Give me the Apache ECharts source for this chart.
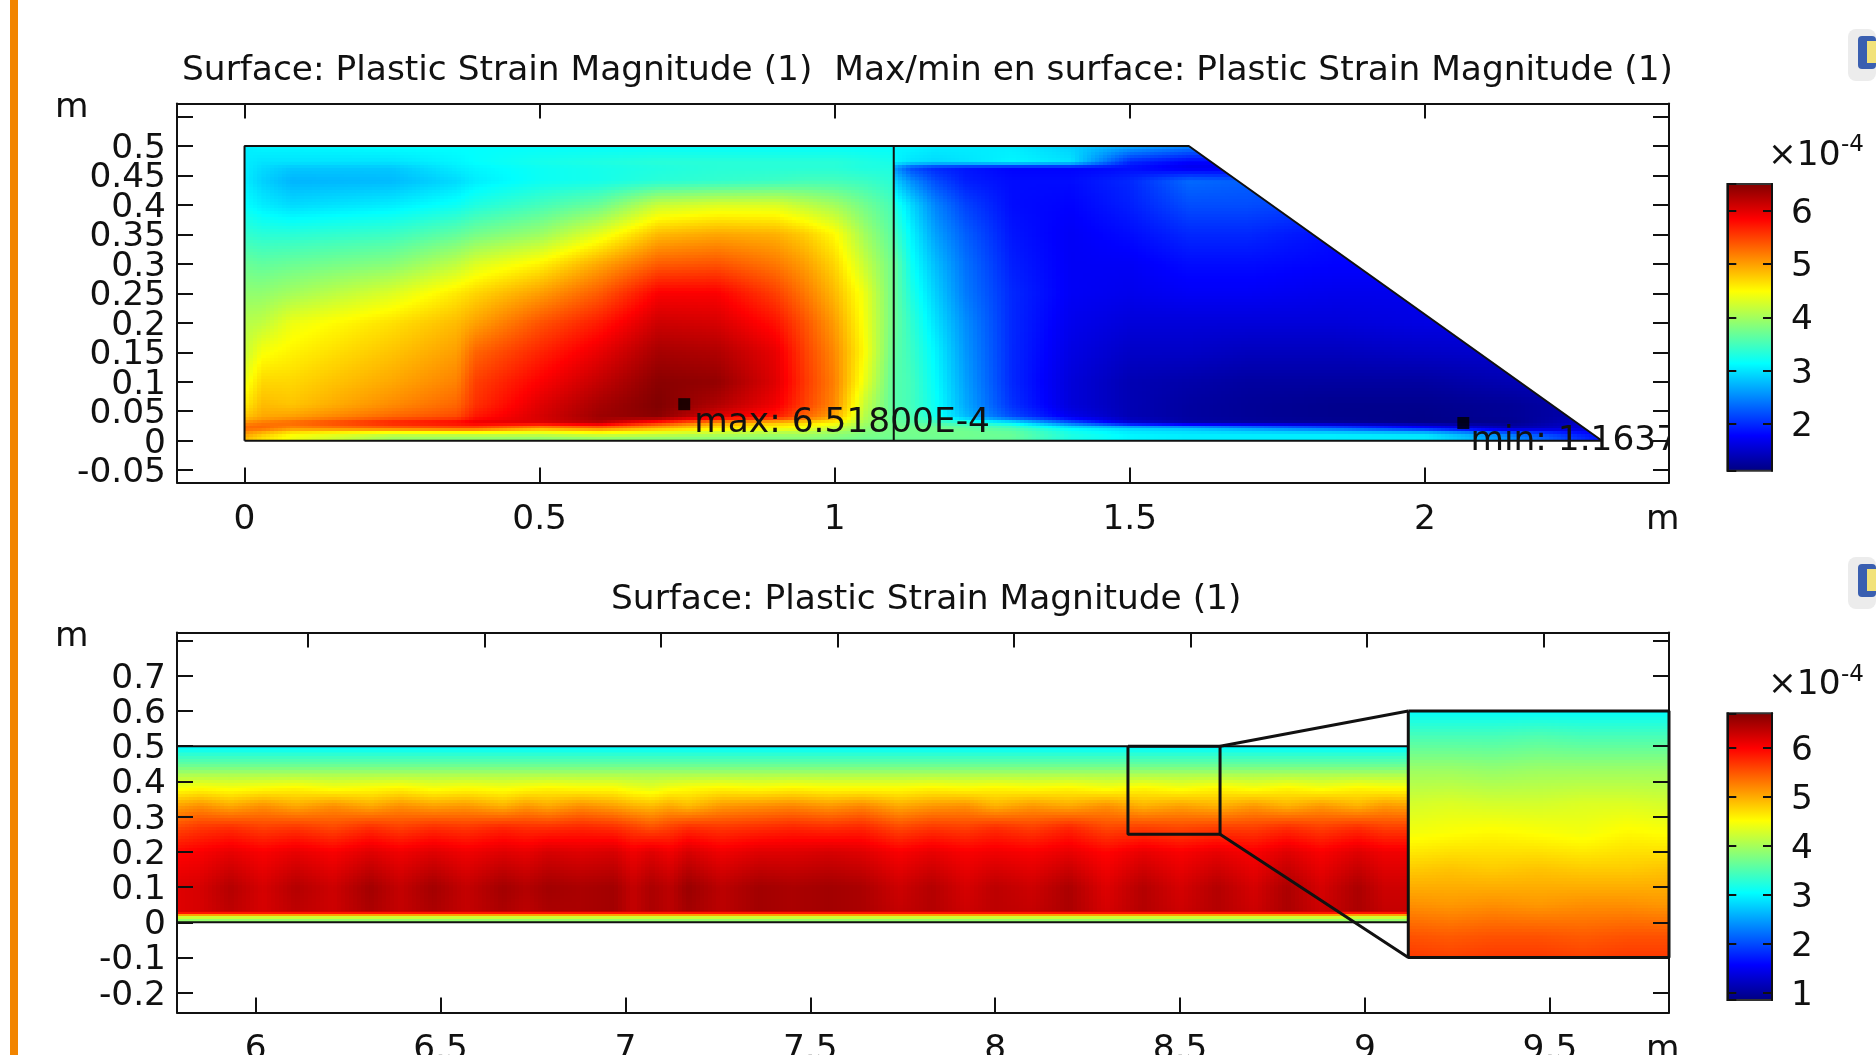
<!DOCTYPE html>
<html><head><meta charset="utf-8">
<style>html,body{margin:0;padding:0;background:#fff;overflow:hidden}#c{width:1876px;height:1055px}</style>
<script src="https://cdn.jsdelivr.net/npm/echarts@6/dist/echarts.min.js"></script>
</head><body><div id="c"></div>
<script>
// ---------- text ----------
const titleTop = 'Surface: Plastic Strain Magnitude (1)  Max/min en surface: Plastic Strain Magnitude (1)';
const titleBottom = 'Surface: Plastic Strain Magnitude (1)';

// ---------- ticks ----------
const topXLabels = [0, 0.5, 1, 1.5, 2];
const topYLabels = [-0.05, 0, 0.05, 0.1, 0.15, 0.2, 0.25, 0.3, 0.35, 0.4, 0.45, 0.5];
const topYTicks = [-0.05, 0, 0.05, 0.1, 0.15, 0.2, 0.25, 0.3, 0.35, 0.4, 0.45, 0.5, 0.55];
const botXLabels = [6, 6.5, 7, 7.5, 8, 8.5, 9, 9.5];
const botXTopTicks = [6, 6.5, 7, 7.5, 8, 8.5, 9, 9.5];
const botYLabels = [-0.2, -0.1, 0, 0.1, 0.2, 0.3, 0.4, 0.5, 0.6, 0.7];
const botYTicks = [-0.2, -0.1, 0, 0.1, 0.2, 0.3, 0.4, 0.5, 0.6, 0.7, 0.8];
const cbTopTicks = [2, 3, 4, 5, 6];
const cbBotTicks = [1, 2, 3, 4, 5, 6];

// ---------- colour ramp / colour bar extents (x 1e-4) ----------
const rampStops = [[0, '#00007f'], [0.125, '#0000ff'], [0.375, '#00ffff'], [0.5, '#80ff80'], [0.625, '#ffff00'], [0.875, '#ff0000'], [1, '#7f0000']];
const cbTopRange = [1.123, 6.507];
const cbBotRange = [0.85, 6.70];

// ---------- upper plot: plastic strain (x 1e-4), rows from y=0.5 down ----------
const topRowY = [0.5, 0.472, 0.462, 0.44, 0.4, 0.35, 0.3, 0.25, 0.2, 0.15, 0.1, 0.06, 0.04, 0.03, 0.022, 0.012, 0];
const leftX = [0, 0.03, 0.08, 0.25, 0.36, 0.39, 0.5, 0.6, 0.7, 0.8, 0.9, 0.95, 1, 1.05, 1.1];
const leftStrain = [
 [3.05,3.1,3.1,3.15,3.15,3.15,3.15,3.15,3.15,3.15,3.15,3.15,3.15,3.15,3.15],
 [3.05,3.0,3.0,3.0,3.1,3.15,3.25,3.3,3.35,3.35,3.35,3.35,3.35,3.3,3.25],
 [3.05,2.95,2.85,2.85,3.05,3.1,3.2,3.25,3.3,3.35,3.35,3.35,3.35,3.3,3.3],
 [3.05,2.9,2.75,2.78,2.95,3.05,3.2,3.25,3.35,3.4,3.45,3.5,3.5,3.45,3.35],
 [3.15,3.05,2.95,3.05,3.2,3.3,3.5,3.7,4.2,4.3,4.3,4.15,4.0,3.75,3.5],
 [3.4,3.35,3.35,3.45,3.65,3.75,3.95,4.35,4.85,4.95,4.9,4.75,4.5,4.0,3.6],
 [3.7,3.65,3.7,3.85,4.15,4.3,4.55,4.95,5.35,5.4,5.2,5.0,4.7,4.2,3.7],
 [3.9,3.9,4.0,4.3,4.6,4.7,5.0,5.35,5.85,5.85,5.5,5.2,4.85,4.4,3.7],
 [4.1,4.15,4.4,4.65,4.85,4.98,5.4,5.7,6.1,6.05,5.75,5.4,5.0,4.45,3.7],
 [4.2,4.45,4.55,4.8,5.0,5.3,5.65,5.95,6.3,6.25,5.95,5.5,5.1,4.5,3.65],
 [4.4,4.7,4.7,4.95,5.15,5.5,5.85,6.15,6.45,6.4,6.0,5.55,5.15,4.4,3.6],
 [4.6,4.85,4.8,5.1,5.3,5.58,6.0,6.3,6.5,6.25,5.9,5.5,5.1,4.2,3.6],
 [4.8,4.95,5.0,5.3,5.45,5.72,6.05,6.35,6.45,6.0,5.7,5.3,4.95,4.1,3.65],
 [5.1,5.2,5.3,5.7,5.85,5.95,6.0,6.2,5.6,5.0,4.8,4.7,4.5,4.0,3.7],
 [5.3,5.3,5.1,5.3,5.4,5.4,5.0,5.2,4.9,4.6,4.5,4.4,4.2,3.9,3.75],
 [5.0,4.8,4.5,4.2,4.2,4.2,4.2,4.3,4.2,4.1,4.0,4.0,3.9,3.8,3.75],
 [4.8,4.6,4.4,3.9,3.85,3.85,3.8,3.8,3.8,3.8,3.8,3.8,3.75,3.7,3.7]
];
const rightX = [1.1, 1.13, 1.17, 1.22, 1.3, 1.4, 1.5, 1.6, 1.7, 1.85, 2, 2.15, 2.3];
const rightStrain = [
 [3.1,3.1,3.05,3.05,3.05,2.9,2.7,2.5,2.4,2.3,2.2,2.1,2.0],
 [3.1,3.0,2.95,3.0,3.1,3.0,2.0,1.8,1.8,1.8,1.8,1.8,1.8],
 [2.6,2.2,2.0,1.9,1.8,1.8,1.85,1.7,1.7,1.7,1.7,1.7,1.7],
 [2.9,2.55,2.2,1.95,1.85,1.85,2.0,2.35,2.3,2.2,2.1,2.0,2.0],
 [3.3,2.95,2.5,2.15,1.85,1.8,1.95,2.2,2.2,2.1,2.0,2.0,2.0],
 [3.5,3.1,2.65,2.3,1.9,1.75,1.85,2.0,2.0,1.85,1.85,1.85,1.85],
 [3.7,3.2,2.8,2.4,1.95,1.75,1.75,1.85,1.85,1.8,1.8,1.8,1.8],
 [3.7,3.3,2.9,2.45,2.0,1.75,1.7,1.75,1.75,1.7,1.7,1.7,1.7],
 [3.7,3.4,3.0,2.55,2.0,1.7,1.6,1.6,1.6,1.6,1.65,1.65,1.65],
 [3.65,3.45,3.1,2.6,2.0,1.65,1.5,1.5,1.45,1.45,1.5,1.55,1.55],
 [3.6,3.5,3.15,2.65,2.0,1.6,1.4,1.35,1.3,1.3,1.3,1.4,1.5],
 [3.6,3.5,3.2,2.7,2.05,1.6,1.4,1.3,1.25,1.2,1.2,1.25,1.4],
 [3.65,3.55,3.25,2.8,2.2,1.7,1.4,1.3,1.25,1.2,1.18,1.25,1.4],
 [3.7,3.65,3.55,3.4,3.1,2.3,1.6,1.35,1.3,1.25,1.17,1.2,1.6],
 [3.75,3.75,3.75,3.7,3.55,3.1,2.9,2.8,2.6,2.3,1.9,1.4,1.6],
 [3.75,3.75,3.75,3.75,3.7,3.3,3.1,3.05,3.05,3.05,3.0,2.4,1.8],
 [3.7,3.7,3.7,3.7,3.65,3.25,3.1,3.05,3.05,3.05,3.05,2.6,1.9]
];
const rightBlockClip = [[1.1,0],[1.1,0.5],[1.6,0.5],[2.3,0]];
const domainOutline = [[0,0],[0,0.5],[1.6,0.5],[2.3,0],[0,0]];
const domainDivider = [[1.1,0],[1.1,0.5]];
const maxPoint = [0.745, 0.062];
const minPoint = [2.065, 0.03];
const topNotes = [[0.762, 0.03, 'max: 6.51800E-4'], [2.077, 0.0, 'min: 1.16370E-4']];

// ---------- lower plot: plastic strain (x 1e-4) ----------
const stripX = [5.7875,5.85,5.93,6.02,6.11,6.21,6.31,6.39,6.48,6.57,6.67,6.73,6.79,6.88,6.97,7.02,7.07,7.12,7.17,7.26,7.36,7.45,7.55,7.64,7.74,7.83,7.92,8.0,8.1,8.2,8.3,8.4,8.5,8.6,8.7,8.79,8.88,8.98,9.05,9.117];
const stripRowY = [0.5, 0.48, 0.45, 0.42, 0.38, 0.33, 0.27, 0.2, 0.1, 0.032, 0.028, 0.023, 0.017, 0.01, 0];
const stripStrain = [
 [3.0],[3.25],[3.6],[4.0],
 [4.45,4.5,4.45,4.5,4.55,4.45,4.5,4.55,4.45,4.5,4.45,4.5,4.55,4.5,4.5,4.4,4.35,4.45,4.5,4.55,4.5,4.55,4.5,4.5,4.5,4.55,4.5,4.55,4.5,4.55,4.45,4.55,4.45,4.55,4.45,4.55,4.45,4.55,4.5,4.5],
 [5.05,5.15,5.0,5.15,5.0,5.15,5.0,5.15,5.05,5.1,4.95,5.1,5.0,5.15,5.05,4.95,4.9,5.0,4.9,5.1,5.15,5.2,5.1,5.2,5.0,5.1,5.15,4.95,5.1,5.0,5.15,4.95,5.05,4.95,5.1,4.95,5.1,4.95,5.1,5.05],
 [5.55,5.65,5.7,5.6,5.65,5.55,5.7,5.6,5.7,5.65,5.75,5.7,5.7,5.75,5.7,5.6,5.5,5.6,5.7,5.65,5.7,5.75,5.7,5.75,5.55,5.65,5.6,5.7,5.6,5.75,5.55,5.6,5.55,5.6,5.6,5.7,5.6,5.7,5.6,5.6],
 [5.95,6.0,6.1,6.0,6.1,6.0,6.15,6.05,6.15,6.05,6.15,6.1,6.2,6.15,6.2,6.05,6.15,6.05,6.2,6.05,6.15,6.15,6.2,6.15,6.0,6.1,6.0,6.05,6.0,6.1,5.95,6.1,6.0,6.1,6.0,6.15,6.0,6.15,6.05,6.05],
 [6.15,6.2,6.4,6.2,6.4,6.25,6.5,6.3,6.5,6.3,6.5,6.4,6.5,6.45,6.5,6.3,6.45,6.35,6.55,6.35,6.5,6.45,6.5,6.45,6.25,6.4,6.2,6.35,6.25,6.45,6.15,6.4,6.2,6.4,6.2,6.45,6.2,6.45,6.25,6.25],
 [6.15,6.2,6.35,6.2,6.35,6.25,6.45,6.3,6.45,6.3,6.45,6.35,6.45,6.45,6.5,6.3,6.45,6.35,6.5,6.35,6.5,6.45,6.5,6.45,6.3,6.4,6.25,6.35,6.3,6.45,6.2,6.4,6.25,6.4,6.25,6.45,6.25,6.45,6.3,6.3],
 [6.1],[5.6],[4.5],[3.95],[3.85]
];
const insetX = [9.117, 9.23, 9.35, 9.47, 9.59, 9.71, 9.822];
const insetRowY = [0.6, 0.53, 0.43, 0.34, 0.25, 0.15, 0.05, -0.04, -0.1];
const insetStrain = [
 [3.05,3.05,3.05,3.05,3.05,3.05,3.05],
 [3.45,3.45,3.45,3.5,3.45,3.45,3.45],
 [3.95,3.95,3.9,3.95,3.95,3.95,3.95],
 [4.25,4.3,4.25,4.25,4.3,4.3,4.25],
 [4.45,4.5,4.55,4.5,4.45,4.55,4.5],
 [4.8,4.85,4.8,4.85,4.8,4.8,4.85],
 [5.15,5.1,5.15,5.1,5.15,5.15,5.1],
 [5.5,5.45,5.5,5.5,5.45,5.5,5.5],
 [5.65,5.6,5.65,5.65,5.6,5.65,5.65]
];
const stripLines = [[5.7875,0.5],[9.117,0.5],null,[5.7875,0],[9.117,0]];
const sourceBox = [[8.359,0.5],[8.608,0.5],[8.608,0.25],[8.359,0.25],[8.359,0.5]];
const insetBox = [[9.117,0.6],[9.822,0.6],[9.822,-0.1],[9.117,-0.1],[9.117,0.6]];
const connectors = [[8.608,0.5],[9.117,0.6],null,[8.608,0.25],[9.117,-0.1]];

// ---------- helpers ----------
const INK = '#111';
const FONT = '"DejaVu Sans"';
const FS = 34.4;
function hex(c){return [1,3,5].map(i=>parseInt(c.substr(i,2),16));}
const rampRGB = rampStops.map(s=>[s[0],hex(s[1])]);
function ramp(t){
  t = Math.max(0,Math.min(1,t));
  for(let i=1;i<rampRGB.length;i++){
    if(t<=rampRGB[i][0]){
      const a=rampRGB[i-1],b=rampRGB[i],f=(t-a[0])/(b[0]-a[0]);
      return 'rgb('+[0,1,2].map(k=>Math.round(a[1][k]+(b[1][k]-a[1][k])*f)).join(',')+')';
    }
  }
  return '#7f0000';
}
// grid nodes -> one record per cell: x0,x1,yTop,yBottom, corner values
function toCells(xs, ys, rows){
  const out=[];
  const full=rows.map(r=>r.length===1?xs.map(()=>r[0]):r);
  for(let j=0;j<ys.length-1;j++) for(let i=0;i<xs.length-1;i++)
    out.push([xs[i],xs[i+1],ys[j],ys[j+1],full[j][i],full[j][i+1],full[j+1][i],full[j+1][i+1]]);
  return out;
}
function cellSeries(name, cells, range, axisIdx, clipPts){
  return {
    type:'custom', name, xAxisIndex:axisIdx[0], yAxisIndex:axisIdx[1], z:1, silent:true,
    data:cells, progressive:0, animation:false,
    encode:{x:[0,1],y:[2,3]},
    renderItem(params,api){
      const p0=api.coord([api.value(0),api.value(2)]), p1=api.coord([api.value(1),api.value(3)]);
      const X0=Math.round(p0[0]),X1=Math.round(p1[0]),Y0=Math.round(p0[1]),Y1=Math.round(p1[1]);
      const v=[api.value(4),api.value(5),api.value(6),api.value(7)];
      const kids=[];
      const W=Math.max(1,X1-X0),H=Math.max(1,Y1-Y0);
      for(let y=Y0;y<Y1;y+=3){
        const h=Math.min(3,Y1-y),ty=(y+h/2-Y0)/H;
        for(let x=X0;x<X1;x+=4){
          const w=Math.min(4,X1-x),tx=(x+w/2-X0)/W;
          const val=(v[0]*(1-tx)+v[1]*tx)*(1-ty)+(v[2]*(1-tx)+v[3]*tx)*ty;
          kids.push({type:'rect',shape:{x,y,width:w,height:h},style:{fill:ramp((val-range[0])/(range[1]-range[0]))}});
        }
      }
      const g={type:'group',children:kids};
      if(clipPts) g.clipPath={type:'polygon',shape:{points:clipPts.map(p=>api.coord(p))}};
      return g;
    }
  };
}
function lineSeries(name, data, axisIdx, width){
  return {type:'line',name,xAxisIndex:axisIdx[0],yAxisIndex:axisIdx[1],z:6,silent:true,showSymbol:false,symbol:'none',
    connectNulls:false,clip:false,animation:false,
    data:data.map(d=>d===null?['-','-']:d),lineStyle:{color:INK,width:width||2}};
}
function cbSeries(name, range, axisIdx){
  return {type:'custom',name,xAxisIndex:axisIdx[0],yAxisIndex:axisIdx[1],z:1,silent:true,animation:false,
    data:[[0,1,range[0],range[1]]],encode:{x:[0,1],y:[2,3]},
    renderItem(params,api){
      const a=api.coord([api.value(0),api.value(2)]),b=api.coord([api.value(1),api.value(3)]);
      return {type:'rect',shape:{x:a[0],y:b[1],width:b[0]-a[0],height:a[1]-b[1]},
        style:{stroke:'#333',lineWidth:2,fill:{type:'linear',x:0,y:1,x2:0,y2:0,
          colorStops:rampStops.map(s=>({offset:s[0],color:s[1]}))}}};
    }};
}
function xAxisBase(gridIndex,min,max,pos,ticks,labels,lab){
  return {type:'value',gridIndex,min,max,position:pos,z:5,scale:true,splitLine:{show:false},
    axisLine:{show:true,onZero:false,lineStyle:{color:INK,width:2}},
    axisTick:{show:true,inside:true,length:15,customValues:ticks,lineStyle:{color:INK,width:2}},
    axisLabel:lab?{show:true,margin:21,fontSize:FS,fontFamily:FONT,color:INK,customValues:labels,formatter:v=>String(v),
      hideOverlap:false,showMinLabel:true,showMaxLabel:true}:{show:false}};
}
// Blank end entries at the axis limits keep the crowded first and last real labels from being dropped.
function yAxisBase(gridIndex,min,max,pos,ticks,labels,lab,len,margin){
  const isEnd=v=>v===min||v===max;
  return {type:'value',gridIndex,min,max,position:pos,z:5,scale:true,splitLine:{show:false},
    axisLine:{show:true,onZero:false,lineStyle:{color:INK,width:2}},
    axisTick:{show:true,inside:true,length:len||16,customValues:[min].concat(ticks,[max]),lineStyle:{color:INK,width:2}},
    axisLabel:lab?{show:true,margin:margin||11,customValues:[min].concat(labels,[max]),hideOverlap:false,
      showMinLabel:false,showMaxLabel:false,padding:[6,0,0,0],
      formatter:v=>isEnd(v)?'':'{a|'+v+'}',
      rich:{a:{fontSize:FS,fontFamily:FONT,color:INK,lineHeight:22}}}:{show:false}};
}
function txt(x,y,text,size,align){
  return {type:'text',x,y,z:20,silent:true,style:{text,font:size+'px '+FONT,fill:INK,textAlign:align||'left',textVerticalAlign:'middle'}};
}
function icon(y){
  return [
    {type:'rect',z:20,silent:true,shape:{x:1848,y:y,width:28,height:52,r:8},style:{fill:'#ececec'}},
    {type:'rect',z:21,silent:true,shape:{x:1858,y:y+7,width:18,height:33,r:4},style:{fill:'#3a5fb0'}},
    {type:'rect',z:22,silent:true,shape:{x:1867,y:y+12,width:9,height:22},style:{fill:'#f2e27a'}}
  ];
}

const option = {
  animation:false, backgroundColor:'#fff',
  title:[
    {text:titleTop,left:177,top:49,textStyle:{fontFamily:FONT,fontSize:FS,fontWeight:'normal',color:INK}},
    {text:titleBottom,left:606,top:578,textStyle:{fontFamily:FONT,fontSize:FS,fontWeight:'normal',color:INK}}
  ],
  grid:[
    {left:177,top:103.5,width:1492,height:379,outerBoundsMode:'none'},
    {left:177,top:632.5,width:1492,height:380,outerBoundsMode:'none'},
    {left:1727.3,top:184,width:44.7,height:286.7,outerBoundsMode:'none'},
    {left:1727.3,top:713.3,width:44.7,height:286.7,outerBoundsMode:'none'}
  ],
  xAxis:[
    xAxisBase(0,-0.1144,2.4135,'bottom',topXLabels,topXLabels,true),
    xAxisBase(0,-0.1144,2.4135,'top',topXLabels,topXLabels,false),
    xAxisBase(1,5.7875,9.822,'bottom',botXLabels,botXLabels,true),
    xAxisBase(1,5.629,9.856,'top',botXTopTicks,botXTopTicks,false),
    {type:'value',gridIndex:2,min:0,max:1,show:false},
    {type:'value',gridIndex:3,min:0,max:1,show:false}
  ],
  yAxis:[
    yAxisBase(0,-0.0709,0.572,'left',topYTicks,topYLabels,true),
    yAxisBase(0,-0.0709,0.572,'right',topYTicks,topYLabels,false),
    yAxisBase(1,-0.256,0.8227,'left',botYTicks,botYLabels,true),
    yAxisBase(1,-0.256,0.8227,'right',botYTicks,botYLabels,false),
    yAxisBase(2,cbTopRange[0],cbTopRange[1],'left',cbTopTicks,cbTopTicks,false,9),
    yAxisBase(2,cbTopRange[0],cbTopRange[1],'right',cbTopTicks,cbTopTicks,true,9,19),
    yAxisBase(3,cbBotRange[0],cbBotRange[1],'left',cbBotTicks,cbBotTicks,false,9),
    yAxisBase(3,cbBotRange[0],cbBotRange[1],'right',cbBotTicks,cbBotTicks,true,9,19)
  ],
  series:[
    cellSeries('Upper left block',toCells(leftX,topRowY,leftStrain),cbTopRange,[0,0]),
    cellSeries('Upper right block',toCells(rightX,topRowY,rightStrain),cbTopRange,[0,0],rightBlockClip),
    lineSeries('Domain outline',domainOutline,[0,0]),
    lineSeries('Divider',domainDivider,[0,0]),
    {type:'scatter',name:'Extremes',xAxisIndex:0,yAxisIndex:0,z:7,silent:true,symbol:'rect',symbolSize:12,
      itemStyle:{color:'#000'},data:[maxPoint,minPoint]},
    {type:'custom',name:'Extreme labels',xAxisIndex:0,yAxisIndex:0,z:8,silent:true,clip:true,animation:false,
      data:topNotes.map(n=>[n[0],n[1]]),encode:{x:0,y:1},
      renderItem(params,api){
        const p=api.coord([api.value(0),api.value(1)]);
        return {type:'text',x:p[0],y:p[1],style:{text:topNotes[params.dataIndex][2],font:FS+'px '+FONT,fill:INK,textAlign:'left',textVerticalAlign:'middle'}};
      }},
    cellSeries('Strip',toCells(stripX,stripRowY,stripStrain),cbBotRange,[2,2]),
    cellSeries('Zoom inset',toCells(insetX,insetRowY,insetStrain),cbBotRange,[2,2]),
    lineSeries('Strip edges',stripLines,[2,2]),
    lineSeries('Source box',sourceBox,[2,2],3),
    lineSeries('Inset box',insetBox,[2,2],3),
    lineSeries('Connectors',connectors,[2,2],3),
    cbSeries('Colour bar upper',cbTopRange,[4,4]),
    cbSeries('Colour bar lower',cbBotRange,[5,6])
  ],
  graphic:[
    {type:'rect',z:20,silent:true,shape:{x:10,y:0,width:8,height:1055},style:{fill:'#f28500'}},
    txt(55,108,'m',FS), txt(55,637,'m',FS),
    txt(1646,520,'m',FS), txt(1646,1050,'m',FS),
    txt(1768,156,'×10',FS), txt(1841,145,'-4',23),
    txt(1768,685,'×10',FS), txt(1841,675,'-4',23),
    ...icon(29), ...icon(557)
  ]
};
const chart = echarts.init(document.getElementById('c'),null,{renderer:'canvas',width:1876,height:1055});
chart.setOption(option);
</script></body></html>
